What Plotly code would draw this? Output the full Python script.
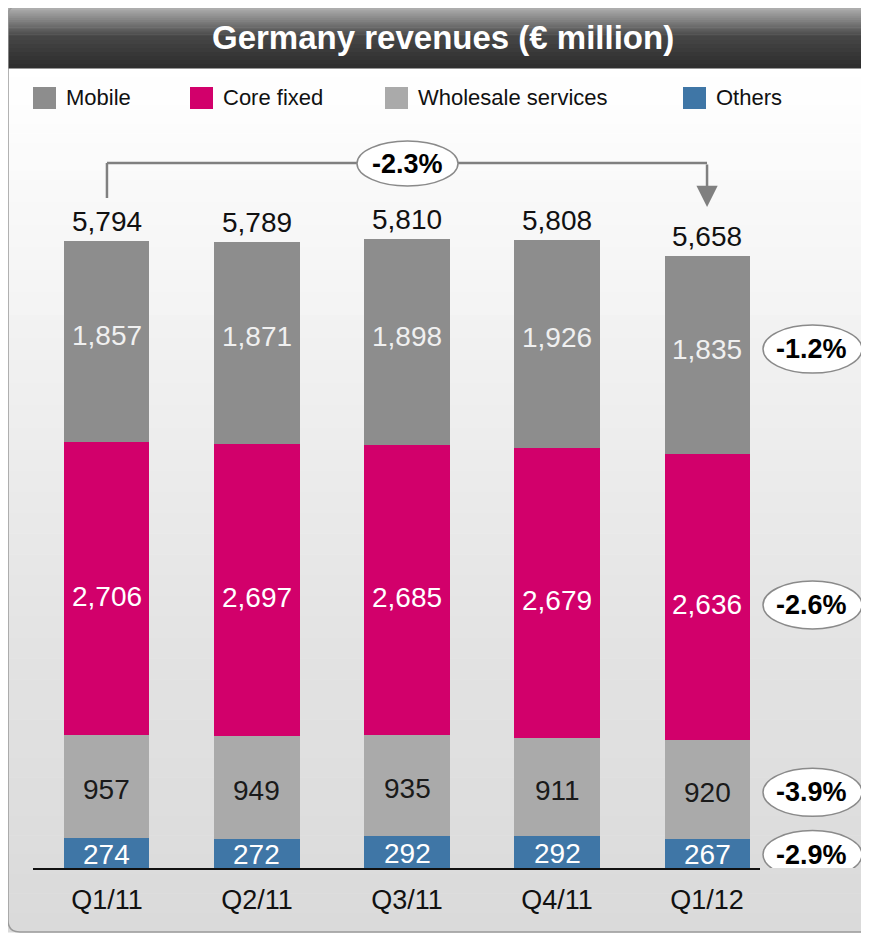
import plotly.graph_objects as go

# data
quarters = ["Q1/11", "Q2/11", "Q3/11", "Q4/11", "Q1/12"]
others = [274, 272, 292, 292, 267]
wholesale = [957, 949, 935, 911, 920]
core_fixed = [2706, 2697, 2685, 2679, 2636]
mobile = [1857, 1871, 1898, 1926, 1835]
totals = [5794, 5789, 5810, 5808, 5658]
# yoy change for last quarter, bottom segment first
seg_changes = ["-2.9%", "-3.9%", "-2.6%", "-1.2%"]
total_change = "-2.3%"

FONT = "Liberation Sans, Arial, sans-serif"
OFF = 8  # page body margin
W, H = 869 - OFF, 937 - OFF
L, R, T, B = 33 - OFF, 109, 100 - OFF, 69
PW, PH = W - L - R, H - T - B
YMAX = PH / 0.1082

#page pixel -> paper coords
def px(x):
	return (x - OFF - L) / PW

def py(y):
	return (H - B - (y - OFF)) / PH

def hex2rgb(h):
	h = h.lstrip("#")
	return [int(h[i:i + 2], 16) for i in (0, 2, 4)]

def gradient(stops, n):
	#list of (y0, y1, color) bands between stops
	bands = []
	for (ya, ca), (yb, cb) in zip(stops[:-1], stops[1:]):
		a, b = hex2rgb(ca), hex2rgb(cb)
		for i in range(n):
			t = (i + 0.5) / n
			c = [round(a[k] + (b[k] - a[k]) * t) for k in range(3)]
			bands.append((ya + (yb - ya) * i / n, ya + (yb - ya) * (i + 1) / n, "rgb(%d,%d,%d)" % tuple(c)))
	return bands

colors = {
	"Mobile": "#8d8d8d",
	"Core fixed": "#d2006b",
	"Wholesale services": "#aaaaaa",
	"Others": "#3f76a6",
}

fig = go.Figure()
series = [("Others", others), ("Wholesale services", wholesale), ("Core fixed", core_fixed), ("Mobile", mobile)]
for name, vals in series:
	fig.add_trace(go.Bar(x=quarters, y=vals, name=name, marker_color=colors[name], marker_line_width=0,
		width=0.567, showlegend=False))

shapes = []
annotations = []

def text(x, y, s, size, color, bold=False, **kw):
	d = dict(x=x, y=y, text="<b>%s</b>" % s if bold else s, showarrow=False, xanchor="center", yanchor="middle",
		font=dict(family=FONT, size=size, color=color))
	d.update(kw)
	annotations.append(d)

# panel background
for y0, y1, c in gradient([(68, "#ffffff"), (180, "#fafafa"), (450, "#ececec"), (700, "#e1e1e1"), (932, "#dadada")], 12):
	shapes.append(dict(type="rect", xref="paper", yref="paper", x0=px(8), x1=px(880), y0=py(y1 + 0.5), y1=py(y0),
		fillcolor=c, line_width=0, layer="below"))
for y0, y1, c in gradient([(5, "#b8b8b8"), (22, "#7c7c7c"), (36, "#474747"), (68, "#2b2b2b")], 8):
	shapes.append(dict(type="rect", xref="paper", yref="paper", x0=px(8), x1=px(880), y0=py(y1 + 0.5), y1=py(y0),
		fillcolor=c, line_width=0, layer="below"))
# frame with rounded left corners
r = 12
frame = "M %f %f L %f %f Q %f %f %f %f L %f %f Q %f %f %f %f L %f %f" % (
	px(880), py(5), px(8 + r), py(5), px(8), py(5), px(8), py(5 + r),
	px(8), py(932 - r), px(8), py(932), px(8 + r), py(932), px(880), py(932))
shapes.append(dict(type="path", xref="paper", yref="paper", path=frame, line=dict(color="#9a9a9a", width=1.5), layer="below"))

text(px(443), py(38), "Germany revenues (€ million)", 33, "white", bold=True, xref="paper", yref="paper")

# legend
legend_x = [33, 190, 385, 683]
for (name, _), lx in zip(series[::-1], legend_x):
	shapes.append(dict(type="rect", xref="paper", yref="paper", x0=px(lx), x1=px(lx + 23), y0=py(109), y1=py(87),
		fillcolor=colors[name], line_width=0))
	text(px(lx + 31), py(98), name, 22, "#111111", xref="paper", yref="paper", xanchor="left")

# segment labels
label_colors = {"Others": "white", "Wholesale services": "#1a1a1a", "Core fixed": "white", "Mobile": "#f0f0f0"}
label_shift = {"Others": -1, "Wholesale services": -3, "Core fixed": -8, "Mobile": 6}
for i, q in enumerate(quarters):
	base = 0
	for name, vals in series:
		text(q, base + vals[i] / 2, "{:,}".format(vals[i]), 28, label_colors[name], yshift=label_shift[name])
		base += vals[i]
	text(q, totals[i], "{:,}".format(totals[i]), 28, "#111111", yanchor="bottom", yshift=2)

# change pills on the right of last bar
base = 0
for (name, vals), ch in zip(series, seg_changes):
	mid = base + vals[-1] / 2
	base += vals[-1]
	s = label_shift[name]
	shapes.append(dict(type="circle", xref="paper", yref="y", x0=px(763), x1=px(862),
		ysizemode="pixel", yanchor=mid, y0=-24 + s, y1=24 + s, fillcolor="white", line=dict(color="#8a8a8a", width=1.5)))
	text(px(812), mid, ch, 27, "black", bold=True, xref="paper", yshift=s)

# bracket between first and last quarter
lc = dict(color="#808080", width=2.5)
shapes.append(dict(type="line", xref="x", yref="paper", x0=0, x1=0, y0=py(198), y1=py(163), line=lc))
shapes.append(dict(type="line", xref="x", yref="paper", x0=0, x1=4, y0=py(163), y1=py(163), line=lc))
annotations.append(dict(x=4, y=py(207), yref="paper", ax=0, ay=-44, text="", showarrow=True,
	arrowhead=2, arrowsize=1.7, arrowwidth=2.5, arrowcolor="#808080"))
shapes.append(dict(type="circle", xref="paper", yref="paper", x0=px(357), x1=px(458), y0=py(186), y1=py(141),
	fillcolor="white", line=dict(color="#8a8a8a", width=1.5)))
text(px(407), py(164), total_change, 27, "black", bold=True, xref="paper", yref="paper")

fig.update_layout(
	barmode="stack",
	width=W, height=H,
	margin=dict(l=L, r=R, t=T, b=B),
	paper_bgcolor="white",
	plot_bgcolor="rgba(0,0,0,0)",
	font=dict(family=FONT),
	shapes=shapes,
	annotations=annotations,
	xaxis=dict(range=[-0.493, 4.353], showgrid=False, zeroline=False, showline=True, linecolor="#111111", linewidth=2,
		ticks="", ticklabelstandoff=7, tickfont=dict(family=FONT, size=27, color="#111111")),
	yaxis=dict(range=[0, YMAX], visible=False),
)

fig.write_html("out.html")
